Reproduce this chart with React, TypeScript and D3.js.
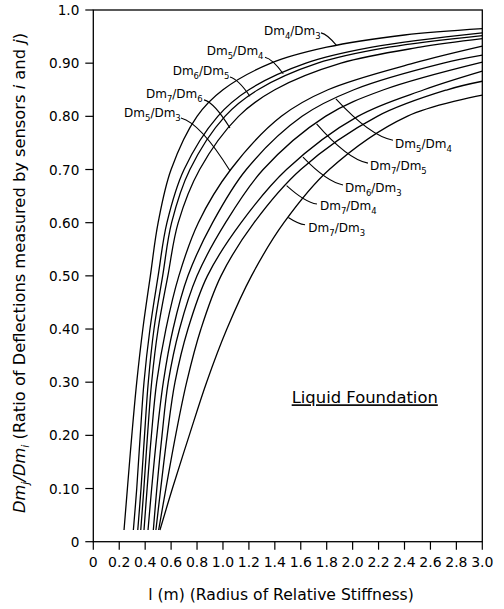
import React from 'react';
import * as d3 from 'd3';

const W = 504;
const H = 609;
const FONT = '"DejaVu Sans", Verdana, sans-serif';

const xTickValues = [0, 0.2, 0.4, 0.6, 0.8, 1.0, 1.2, 1.4, 1.6, 1.8, 2.0, 2.2, 2.4, 2.6, 2.8, 3.0];
const xTickLabels = ['0', '0.2', '0.4', '0.6', '0.8', '1.0', '1.2', '1.4', '1.6', '1.8', '2.0', '2.2', '2.4', '2.6', '2.8', '3.0'];
const yTickValues = [0, 0.1, 0.2, 0.3, 0.4, 0.5, 0.6, 0.7, 0.8, 0.9, 1.0];
const yTickLabels = ['0', '0.10', '0.20', '0.30', '0.40', '0.50', '0.60', '0.70', '0.80', '0.90', '1.0'];

// curves, [l (m), ratio]
const dm4dm3: [number, number][] = [[0.237, 0.022], [0.263, 0.1], [0.297, 0.2], [0.335, 0.3], [0.382, 0.4], [0.44, 0.5], [0.50, 0.6], [0.60, 0.7], [0.80, 0.8], [1.0, 0.85], [1.37, 0.9], [1.80, 0.93], [2.4, 0.953], [3.0, 0.965]];
const dm5dm4a: [number, number][] = [[0.309, 0.022], [0.335, 0.1], [0.362, 0.2], [0.391, 0.3], [0.437, 0.4], [0.50, 0.5], [0.568, 0.6], [0.70, 0.7], [0.96, 0.8], [1.20, 0.85], [1.64, 0.9], [2.15, 0.93], [3.0, 0.957]];
const dm6dm5: [number, number][] = [[0.343, 0.022], [0.368, 0.1], [0.395, 0.2], [0.424, 0.3], [0.468, 0.4], [0.535, 0.5], [0.604, 0.6], [0.745, 0.7], [1.015, 0.8], [1.27, 0.85], [1.73, 0.9], [2.28, 0.93], [3.0, 0.952]];
const dm7dm6: [number, number][] = [[0.366, 0.022], [0.39, 0.1], [0.418, 0.2], [0.45, 0.3], [0.50, 0.4], [0.575, 0.5], [0.655, 0.6], [0.82, 0.7], [1.12, 0.8], [1.40, 0.85], [1.91, 0.9], [2.52, 0.93], [3.0, 0.946]];
const dm5dm3: [number, number][] = [[0.391, 0.022], [0.415, 0.1], [0.448, 0.2], [0.489, 0.3], [0.56, 0.4], [0.66, 0.5], [0.81, 0.6], [1.06, 0.7], [1.45, 0.8], [1.81, 0.85], [2.47, 0.9], [3.0, 0.932]];
const dm5dm4b: [number, number][] = [[0.422, 0.022], [0.45, 0.1], [0.49, 0.2], [0.54, 0.3], [0.615, 0.4], [0.73, 0.5], [0.92, 0.6], [1.18, 0.7], [1.61, 0.8], [2.01, 0.85], [2.70, 0.9], [3.0, 0.915]];
const dm7dm5: [number, number][] = [[0.463, 0.022], [0.49, 0.1], [0.53, 0.2], [0.578, 0.3], [0.665, 0.4], [0.80, 0.5], [1.02, 0.6], [1.31, 0.7], [1.79, 0.8], [2.24, 0.85], [3.0, 0.902]];
const dm6dm3: [number, number][] = [[0.483, 0.022], [0.52, 0.1], [0.57, 0.2], [0.63, 0.3], [0.73, 0.4], [0.88, 0.5], [1.14, 0.6], [1.49, 0.7], [2.04, 0.8], [2.55, 0.85], [3.0, 0.885]];
const dm7dm4: [number, number][] = [[0.504, 0.022], [0.56, 0.1], [0.635, 0.2], [0.72, 0.3], [0.83, 0.4], [0.985, 0.5], [1.24, 0.6], [1.60, 0.7], [2.19, 0.8], [2.73, 0.85], [3.0, 0.866]];
const dm7dm3: [number, number][] = [[0.514, 0.022], [0.61, 0.1], [0.74, 0.2], [0.874, 0.3], [1.03, 0.4], [1.22, 0.5], [1.47, 0.6], [1.82, 0.7], [2.42, 0.8], [3.0, 0.84]];

const allSeries = [dm4dm3, dm5dm4a, dm6dm5, dm7dm6, dm5dm3, dm5dm4b, dm7dm5, dm6dm3, dm7dm4, dm7dm3];

// curve labels
const labelNums = ['4', '5', '6', '7', '5', '5', '7', '6', '7', '7'];
const labelDens = ['3', '4', '5', '6', '3', '4', '5', '3', '4', '3'];
const labelAnchors: [number, number][] = [[1.316, 0.953], [0.875, 0.915], [0.612, 0.878], [0.406, 0.834], [0.237, 0.799], [2.327, 0.740], [2.134, 0.699], [1.941, 0.658], [1.748, 0.624], [1.658, 0.583]];
const leaderStarts: [number, number][] = [[1.756, 0.957], [1.324, 0.911], [1.054, 0.874], [0.854, 0.831], [0.676, 0.797], [2.311, 0.755], [2.118, 0.712], [1.926, 0.671], [1.725, 0.635], [1.633, 0.596]];
const leaderTargetX = [1.877, 1.465, 1.208, 1.054, 1.054, 1.871, 1.722, 1.617, 1.491, 1.504];

const foundationLabel = 'Liquid Foundation';
const foundationAt: [number, number] = [1.53, 0.2603];

function valueAt(s: [number, number][], xv: number): number {
  for (let i = 1; i < s.length; i++) {
    if (s[i][0] >= xv) {
      const [xa, ya] = s[i - 1];
      const [xb, yb] = s[i];
      return ya + ((xv - xa) / (xb - xa)) * (yb - ya);
    }
  }
  return s[s.length - 1][1];
}

export default function App() {
  const x = d3.scaleLinear().domain([0, 3]).range([93.3, 482.3]);
  const y = d3.scaleLinear().domain([0, 1]).range([541.7, 10]);
  const line = d3
    .line<[number, number]>()
    .x((d) => x(d[0]))
    .y((d) => y(d[1]))
    .curve(d3.curveCatmullRom.alpha(0.5));

  const x0 = x(0);
  const y0 = y(0);

  return (
    <svg width={W} height={H} style={{ position: 'absolute', left: 0, top: 0, background: '#fff' }} fontFamily={FONT}>
      <rect x={0} y={0} width={W} height={H} fill="#fff" />
      <g fill="none" stroke="#000" strokeWidth={1.3}>
        {allSeries.map((s, i) => (
          <path key={i} d={line(s) || ''} />
        ))}
      </g>
      <g fill="none" stroke="#000" strokeWidth={1.1}>
        {leaderStarts.map((s, i) => {
          const tx = leaderTargetX[i];
          const ty = valueAt(allSeries[i], tx);
          const sx = x(s[0]);
          const sy = y(s[1]);
          const ex = x(tx);
          const ey = y(ty);
          const cx = sx + 0.4 * (ex - sx);
          const cy = sy + 0.1 * (ey - sy);
          return <path key={i} d={`M${sx},${sy}Q${cx},${cy} ${ex},${ey}`} />;
        })}
      </g>
      <g fontSize={12} fill="#000">
        {labelAnchors.map((a, i) => (
          <text key={i} x={x(a[0])} y={y(a[1])}>
            <tspan>Dm</tspan>
            <tspan fontSize={8.5} dy={4}>{labelNums[i]}</tspan>
            <tspan dy={-4}>/Dm</tspan>
            <tspan fontSize={8.5} dy={4}>{labelDens[i]}</tspan>
          </text>
        ))}
      </g>
      <rect x={x(0)} y={y(1)} width={x(3) - x(0)} height={y(0) - y(1)} fill="none" stroke="#000" strokeWidth={1.3} />
      <g>
        {yTickValues.map((v, i) => (
          <g key={i}>
            <line x1={x0 - 8} x2={x0} y1={y(v)} y2={y(v)} stroke="#000" strokeWidth={1.2} />
            <text x={x0 - 14} y={y(v) + 5} fontSize={13.6} textAnchor="end">
              {yTickLabels[i]}
            </text>
          </g>
        ))}
      </g>
      <g>
        {xTickValues.map((v, i) => (
          <g key={i}>
            <line x1={x(v)} x2={x(v)} y1={y0} y2={y0 + 8} stroke="#000" strokeWidth={1.2} />
            <text x={x(v)} y={567} fontSize={14} textAnchor="middle">
              {xTickLabels[i]}
            </text>
          </g>
        ))}
      </g>
      <text x={281} y={600} fontSize={15.6} textAnchor="middle">
        l (m) (Radius of Relative Stiffness)
      </text>
      <text transform="translate(25,273) rotate(-90)" fontSize={16.3} textAnchor="middle">
        <tspan fontStyle="italic">Dm</tspan>
        <tspan fontStyle="italic" fontSize={11} dy={4}>j</tspan>
        <tspan fontStyle="italic" dy={-4}>/Dm</tspan>
        <tspan fontStyle="italic" fontSize={11} dy={4}>i</tspan>
        <tspan dy={-4}> (Ratio of Deflections measured by sensors </tspan>
        <tspan fontStyle="italic">i</tspan>
        <tspan> and </tspan>
        <tspan fontStyle="italic">j</tspan>
        <tspan>)</tspan>
      </text>
      <text x={x(foundationAt[0])} y={y(foundationAt[1])} fontSize={16.4} textDecoration="underline">
        {foundationLabel}
      </text>
    </svg>
  );
}
